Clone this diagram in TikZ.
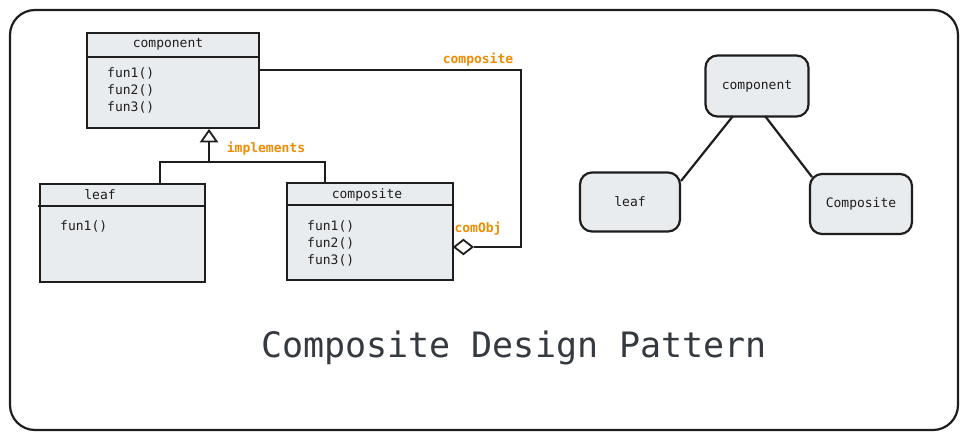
\documentclass[tikz,border=0pt]{standalone}
\usepackage{fontspec}
\setmonofont{DejaVu Sans Mono}
\usetikzlibrary{shapes.geometric}
\definecolor{boxfill}{HTML}{E9ECEF}
\definecolor{ink}{HTML}{1E1E1E}
\definecolor{txt}{HTML}{343A40}
\definecolor{orng}{HTML}{F08C00}
\tikzset{
  line/.style={draw=ink, line width=2.2pt},
  uml/.style={line, fill=boxfill},
  lbl/.style={font=\ttfamily\fontsize{13}{17}\selectfont, text=ink, inner sep=0pt},
  olbl/.style={font=\ttfamily\bfseries\fontsize{13}{17}\selectfont, text=orng, inner sep=0pt},
  rbox/.style={line, fill=boxfill, rounded corners=12pt, font=\ttfamily\fontsize{13}{17}\selectfont, text=ink},
}
\begin{document}
\begin{tikzpicture}[x=1pt,y=-1pt]
\useasboundingbox (0,0) rectangle (966,439);
\draw[line, rounded corners=25pt, fill=white] (10,10) rectangle (958,430);

% component class
\draw[uml] (87,33) rectangle (259,128);
\draw[line] (87,57) -- (259,57);
\node[lbl] (compT) at (168,44) {component};
\node[lbl, anchor=west, align=left] (compF) at (107,90) {fun1()\\fun2()\\fun3()};
\coordinate (compR) at (259,70);

% leaf class
\draw[uml] (40,184) rectangle (205,282);
\draw[line] (38,206) -- (205,206);
\node[lbl] (leafT) at (100,195) {leaf};
\node[lbl, anchor=west] (leafF) at (60,226) {fun1()};

% composite class
\draw[uml] (287,183) rectangle (453,280);
\draw[line] (287,205) -- (453,205);
\node[lbl] (cmpT) at (367,195) {composite};
\node[lbl, anchor=west, align=left] (cmpF) at (307,243) {fun1()\\fun2()\\fun3()};

% inheritance
\node[line, line width=1.8pt, fill=white, isosceles triangle, shape border rotate=90, isosceles triangle apex angle=70, minimum width=14pt, minimum height=11pt, inner sep=0pt, anchor=apex] (tri) at (209,129) {};
\coordinate (jn) at (209,162);
\draw[line] (tri.south) -- (jn);
\draw[line] (160,184) |- (jn) -| (325,183);
\node[olbl] (impl) at (266,149) {implements};

% composition
\node[line, line width=1.8pt, fill=white, diamond, minimum width=19pt, minimum height=15pt, inner sep=0pt, anchor=west] (dia) at (453,247) {};
\draw[line] (compR) -- (521,70) -- (521,247) -- (dia.east);
\node[olbl] (lab1) at (478,60) {composite};
\node[olbl] (lab2) at (478,229) {comObj};

% right tree
\node[rbox, minimum width=103pt, minimum height=61pt] (rc) at (757,86) {component};
\node[rbox, minimum width=100pt, minimum height=59pt] (rl) at (630,202) {leaf};
\node[rbox, minimum width=102pt, minimum height=60pt] (rk) at (861,204) {Composite};
\draw[line] (733,116) -- (681,181);
\draw[line] (765,116) -- (812,177);

% title
\node[font=\ttfamily\fontsize{35}{40}\selectfont, text=txt, inner sep=0pt] (title) at (514,348) {Composite Design Pattern};
\end{tikzpicture}
\end{document}
